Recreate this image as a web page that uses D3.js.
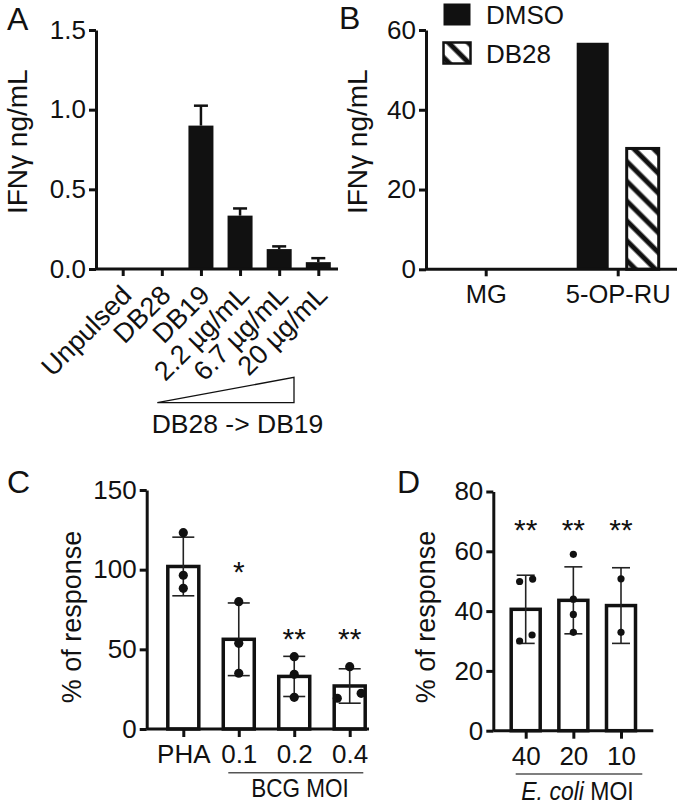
<!DOCTYPE html>
<html><head><meta charset="utf-8">
<script src="https://cdn.jsdelivr.net/npm/d3@7"></script>
<style>body{margin:0;background:#fff} svg{display:block} text{font-family:"Liberation Sans",Arial,Helvetica,sans-serif;fill:#111}</style>
</head><body><svg id="c" width="677" height="809"></svg>
<script>
// ---------- Panel A ----------
const aCategories = ["Unpulsed","DB28","DB19","2.2 µg/mL","6.7 µg/mL","20 µg/mL"];
const aValues = [0, 0, 0.90, 0.335, 0.125, 0.043];
const aErrors = [0, 0, 0.125, 0.045, 0.017, 0.025];
const aTicks = [0, 0.5, 1.0, 1.5];
// ---------- Panel B ----------
const bGroups = ["MG","5-OP-RU"];
const bSeries = ["DMSO","DB28"];
const bDMSO = [0, 56.8];
const bDB28 = [0, 30.3];
const bTicks = [0, 20, 40, 60];
// ---------- Panel C ----------
const cCategories = ["PHA","0.1","0.2","0.4"];
const cMeans = [102, 56.3, 33, 27];
const cSD = [18.4, 22.8, 12.6, 10.8];
const cPoints = [[123.2, 96.5, 88.3], [79.9, 53.8, 35], [45.4, 34.3, 19.9], [39.1, 19.3, 22.4]];
const cJitter = [[0,0,0],[0,0,0],[0,0,0],[0,-0.4,0.37]];
const cStars = ["", "*", "**", "**"];
const cStarLevel = [0, 104, 62, 62];
const cTicks = [0, 50, 100, 150];
// ---------- Panel D ----------
const dCategories = ["40","20","10"];
const dMeans = [40.6, 43.6, 41.85];
const dSD = [11.4, 11.2, 12.65];
const dPoints = [[49.9, 50.7, 30, 32], [59, 44, 38.9, 32.9], [50.8, 32.9]];
const dJitter = [[-0.21, 0.24, -0.21, 0.22], [0,0,0,0], [0,0]];
const dStars = ["**","**","**"];
const dStarLevel = [70, 70, 70];
const dTicks = [0, 20, 40, 60, 80];

const svg = d3.select("#c");
const INK = "#111";
const FS = 26;

const defs = svg.append("defs");
const pat = defs.append("pattern").attr("id","hatch").attr("patternUnits","userSpaceOnUse")
  .attr("width",14).attr("height",14).attr("patternTransform","rotate(-45)");
pat.append("rect").attr("width",14).attr("height",14).attr("fill","#fff");
pat.append("line").attr("x1",7).attr("x2",7).attr("y1",-2).attr("y2",16).attr("stroke",INK).attr("stroke-width",5);

function styleAxis(g){
  g.attr("font-size",FS).attr("font-family",null);
  g.selectAll("path.domain, .tick line").attr("stroke",INK).attr("stroke-width",3);
  g.selectAll("text").attr("fill",INK);
}
function letter(t,x,y){ svg.append("text").attr("x",x).attr("y",y).attr("font-size",32).text(t); }
function ytitle(t,x,y,fs){ svg.append("text").attr("transform",`translate(${x},${y}) rotate(-90)`).attr("text-anchor","middle").attr("font-size",fs).text(t); }

// ================= A =================
{
  const x0 = 96, x1 = 338;
  const y = d3.scaleLinear().domain([0,1.5]).range([269,30]);
  const x = d3.scalePoint().domain(aCategories).range([122.7,318.3]);
  const bw = 25;
  const g = svg.append("g");
  g.selectAll("rect.bar").data(aCategories).join("rect")
    .attr("x",d=>x(d)-bw/2).attr("width",bw)
    .attr("y",(d,i)=>y(aValues[i])).attr("height",(d,i)=>y(0)-y(aValues[i]))
    .attr("fill",INK);
  aCategories.forEach((c,i)=>{
    if(!aErrors[i]) return;
    const yt = y(aValues[i]+aErrors[i]);
    g.append("line").attr("x1",x(c)).attr("x2",x(c)).attr("y1",y(aValues[i])).attr("y2",yt).attr("stroke",INK).attr("stroke-width",2.5);
    g.append("line").attr("x1",x(c)-7).attr("x2",x(c)+7).attr("y1",yt).attr("y2",yt).attr("stroke",INK).attr("stroke-width",2.5);
  });
  const ya = g.append("g").attr("transform",`translate(${x0},0)`)
    .call(d3.axisLeft(y).tickValues(aTicks).tickFormat(d3.format(".1f")).tickSize(7).tickSizeOuter(0));
  styleAxis(ya);
  const xa = g.append("g").attr("transform",`translate(0,${y(0)})`)
    .call(d3.axisBottom(x).tickSize(7).tickSizeOuter(0));
  xa.select("path.domain").remove();
  styleAxis(xa);
  xa.selectAll("text").attr("y",null).attr("dy",null).attr("text-anchor","end").attr("font-size",27)
    .attr("transform","translate(10,28) rotate(-45)");
  g.append("line").attr("x1",x0).attr("x2",x1).attr("y1",y(0)).attr("y2",y(0)).attr("stroke",INK).attr("stroke-width",3);
  // concentration wedge
  g.append("path").attr("d","M157.3,402.7L294,377.3L294,402.7Z").attr("fill","none").attr("stroke",INK).attr("stroke-width",1.3);
  g.append("text").attr("x",237.5).attr("y",433.3).attr("text-anchor","middle").attr("font-size",26.5).text("DB28 -> DB19");
  letter("A",7,30);
  ytitle("IFNγ ng/mL",27,141.7,28);
}

// ================= B =================
{
  const x0 = 426, x1 = 677;
  const y = d3.scaleLinear().domain([0,60]).range([269.3,30]);
  const x = d3.scalePoint().domain(bGroups).range([485.7,617.7]);
  const xs = d3.scaleBand().domain(bSeries).range([-50,50]).paddingInner(0.36).paddingOuter(0.18);
  const vals = {DMSO:bDMSO, DB28:bDB28};
  const g = svg.append("g");
  bSeries.forEach(s=>{
    g.selectAll(null).data(bGroups).join("rect")
      .filter((d,i)=>vals[s][i]>0)
      .attr("x",d=>x(d)+xs(s)).attr("width",xs.bandwidth())
      .attr("y",(d,i)=>y(vals[s][bGroups.indexOf(d)])).attr("height",d=>y(0)-y(vals[s][bGroups.indexOf(d)]))
      .attr("fill",s==="DMSO"?INK:"url(#hatch)")
      .attr("stroke",INK).attr("stroke-width",s==="DMSO"?0:3);
  });
  const ya = g.append("g").attr("transform",`translate(${x0},0)`)
    .call(d3.axisLeft(y).tickValues(bTicks).tickSize(7).tickSizeOuter(0));
  styleAxis(ya);
  const xa = g.append("g").attr("transform",`translate(0,${y(0)})`)
    .call(d3.axisBottom(x).tickSize(7).tickSizeOuter(0));
  xa.select("path.domain").remove();
  styleAxis(xa);
  xa.selectAll("text").attr("y",34).attr("dy",null).attr("font-size",25.5);
  g.append("line").attr("x1",x0).attr("x2",x1).attr("y1",y(0)).attr("y2",y(0)).attr("stroke",INK).attr("stroke-width",3);
  // legend
  const lg = g.append("g");
  bSeries.forEach((s,i)=>{
    lg.append("rect").attr("x",443.5).attr("y",i?42.5:3.5).attr("width",27).attr("height",i?21:22)
      .attr("fill",i?"url(#hatch)":INK).attr("stroke",INK).attr("stroke-width",i?2.5:0);
    lg.append("text").attr("x",486).attr("y",i?63.3:24).attr("font-size",26).text(s);
  });
  letter("B",339,29);
  ytitle("IFNγ ng/mL",367,141.7,28);
}

function dotPanel(o){
  const y = d3.scaleLinear().domain(o.domain).range(o.yRange);
  const x = d3.scalePoint().domain(o.cats).range(o.xRange);
  const g = svg.append("g");
  g.selectAll("rect.bar").data(o.cats).join("rect")
    .attr("x",d=>x(d)-o.bw/2).attr("width",o.bw)
    .attr("y",(d,i)=>y(o.means[i])).attr("height",(d,i)=>y(0)-y(o.means[i]))
    .attr("fill","#fff").attr("stroke",INK).attr("stroke-width",3.5);
  o.cats.forEach((c,i)=>{
    const lo = y(o.means[i]-o.sd[i]), hi = y(o.means[i]+o.sd[i]);
    g.append("line").attr("x1",x(c)).attr("x2",x(c)).attr("y1",lo).attr("y2",hi).attr("stroke","#222").attr("stroke-width",1.6);
    [lo,hi].forEach(yy=>g.append("line").attr("x1",x(c)-o.cap/2).attr("x2",x(c)+o.cap/2).attr("y1",yy).attr("y2",yy).attr("stroke","#222").attr("stroke-width",1.6));
    o.points[i].forEach((p,j)=>{
      g.append("circle").attr("cx",x(c)+o.jitter[i][j]*o.bw).attr("cy",y(p)).attr("r",o.r).attr("fill",INK);
    });
    if(o.stars[i]) g.append("text").attr("x",x(c)).attr("y",y(o.starLevel[i])).attr("dy","0.62em")
      .attr("text-anchor","middle").attr("font-size",30).text(o.stars[i]);
  });
  const ya = g.append("g").attr("transform",`translate(${o.x0},0)`)
    .call(d3.axisLeft(y).tickValues(o.ticks).tickSize(7).tickSizeOuter(0));
  styleAxis(ya);
  const xa = g.append("g").attr("transform",`translate(0,${y(0)})`)
    .call(d3.axisBottom(x).tickSize(8).tickSizeOuter(0));
  xa.select("path.domain").remove();
  styleAxis(xa);
  xa.selectAll("text").attr("y",34.3).attr("dy",null).attr("font-size",26);
  g.append("line").attr("x1",o.x0).attr("x2",o.x1).attr("y1",y(0)).attr("y2",y(0)).attr("stroke",INK).attr("stroke-width",3);
  g.append("line").attr("x1",o.ul[0]).attr("x2",o.ul[1]).attr("y1",o.ul[2]).attr("y2",o.ul[2]).attr("stroke","#555").attr("stroke-width",1.6);
  return g;
}

// ================= C =================
{
  const g = dotPanel({domain:[0,150], yRange:[729,490], cats:cCategories, xRange:[183.3,349.7], bw:31,
    means:cMeans, sd:cSD, points:cPoints, jitter:cJitter, stars:cStars, starLevel:cStarLevel, ticks:cTicks,
    cap:22, r:4.6, x0:146.7, x1:369, ul:[228.3,363.3,772.7]});
  g.append("text").attr("transform","translate(300,796.5) scale(0.9,1)").attr("text-anchor","middle").attr("font-size",25).text("BCG MOI");
  letter("C",7,492.5);
  ytitle("% of response",81,617,27);
}
// ================= D =================
{
  const g = dotPanel({domain:[0,80], yRange:[730.7,491.5], cats:dCategories, xRange:[525.7,621], bw:29,
    means:dMeans, sd:dSD, points:dPoints, jitter:dJitter, stars:dStars, starLevel:dStarLevel, ticks:dTicks,
    cap:18, r:3.6, x0:493.3, x1:653.3, ul:[515.7,642.3,774]});
  const t = g.append("text").attr("transform","translate(577.5,800) scale(0.92,1)").attr("text-anchor","middle").attr("font-size",25);
  t.append("tspan").attr("font-style","italic").text("E. coli");
  t.append("tspan").text(" MOI");
  letter("D",397,492.5);
  ytitle("% of response",435,617,27);
}
</script></body></html>
